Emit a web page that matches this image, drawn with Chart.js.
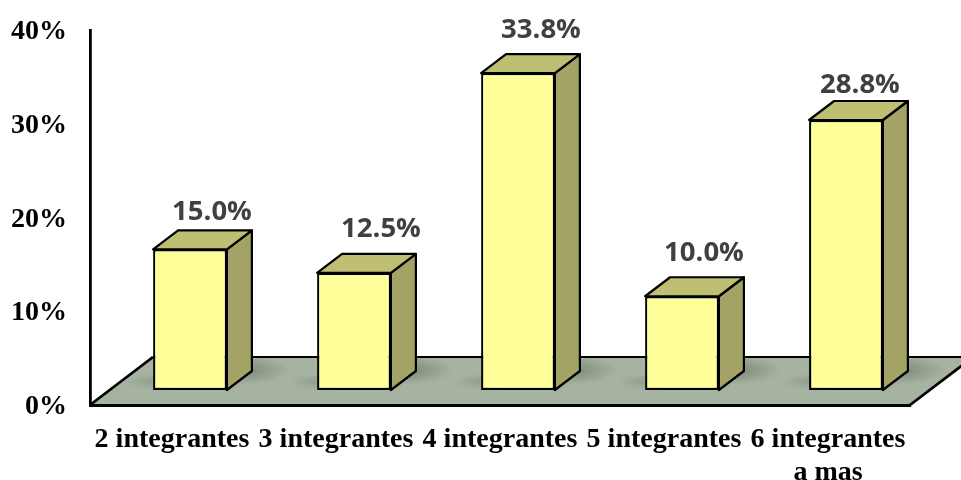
<!DOCTYPE html>
<html><head><meta charset="utf-8">
<style>html,body{margin:0;padding:0;background:#fff}#w{width:961px;height:480px}</style>
<script src="https://cdn.jsdelivr.net/npm/chart.js@4/dist/chart.umd.min.js"></script>
</head><body><div id="w"><canvas id="c"></canvas></div>
<script>
const categories = ["2 integrantes","3 integrantes","4 integrantes","5 integrantes",["6 integrantes","a mas"]];
const values = [15.0,12.5,33.8,10.0,28.8];
const valueLabels = ["15.0%","12.5%","33.8%","10.0%","28.8%"];
const yMax = 40, yStep = 10;

const BAR_SHIFT = {x:18, y:-15};
const DEPTH = {x:25, y:-19};
const FLOOR = {x:63, y:-48};
const LABEL_NUDGE_X = [0,5,1,0,-8];
const LABEL_NUDGE_Y = [2,-5,-4,-4,4];
const EDGE = 2.2;

const threeD = {
  id:'threeD',
  beforeDraw(chart){
    const {ctx,chartArea:a} = chart;
    const poly = () => {
      ctx.beginPath();
      ctx.moveTo(a.left,a.bottom);
      ctx.lineTo(a.right,a.bottom);
      ctx.lineTo(a.right+FLOOR.x,a.bottom+FLOOR.y);
      ctx.lineTo(a.left+FLOOR.x,a.bottom+FLOOR.y);
      ctx.closePath();
    };
    ctx.save();
    poly();
    ctx.fillStyle='#A7B3A1';
    ctx.fill();
    ctx.save();
    poly(); ctx.clip();
    chart.getDatasetMeta(0).data.forEach(b=>{
      const bx = b.x+BAR_SHIFT.x+b.width/2+16, by = b.base+BAR_SHIFT.y-20;
      ctx.save();
      ctx.translate(bx,by); ctx.scale(1,0.32);
      const g = ctx.createRadialGradient(0,0,2,0,0,46);
      g.addColorStop(0,'rgba(75,85,75,0.45)');
      g.addColorStop(1,'rgba(75,85,75,0)');
      ctx.fillStyle=g;
      ctx.beginPath(); ctx.arc(0,0,46,0,Math.PI*2); ctx.fill();
      ctx.restore();
      const lx = b.x+BAR_SHIFT.x-b.width/2;
      ctx.save();
      ctx.translate(lx,by+12); ctx.scale(1,0.3);
      const g2 = ctx.createRadialGradient(0,0,2,0,0,28);
      g2.addColorStop(0,'rgba(75,85,75,0.2)');
      g2.addColorStop(1,'rgba(75,85,75,0)');
      ctx.fillStyle=g2;
      ctx.beginPath(); ctx.arc(0,0,28,0,Math.PI*2); ctx.fill();
      ctx.restore();
    });
    ctx.restore();
    ctx.strokeStyle='#000';
    ctx.lineWidth=1.8;
    ctx.beginPath();
    ctx.moveTo(a.left+FLOOR.x,a.bottom+FLOOR.y);
    ctx.lineTo(a.right+FLOOR.x,a.bottom+FLOOR.y);
    ctx.stroke();
    ctx.lineWidth=2.8;
    ctx.beginPath();
    ctx.moveTo(a.left,a.bottom);
    ctx.lineTo(a.left+FLOOR.x,a.bottom+FLOOR.y);
    ctx.moveTo(a.right,a.bottom);
    ctx.lineTo(a.right+FLOOR.x,a.bottom+FLOOR.y);
    ctx.stroke();
    ctx.restore();
  },
  beforeDatasetsDraw(chart){
    const {ctx} = chart;
    ctx.save();
    ctx.translate(BAR_SHIFT.x,BAR_SHIFT.y);
    ctx.strokeStyle='#000';
    ctx.lineWidth=EDGE;
    ctx.lineJoin='round';
    chart.getDatasetMeta(0).data.forEach(b=>{
      const l=b.x-b.width/2, r=b.x+b.width/2, t=b.y, base=b.base;
      ctx.fillStyle='#A3A365';
      ctx.beginPath();
      ctx.moveTo(r,t); ctx.lineTo(r+DEPTH.x,t+DEPTH.y);
      ctx.lineTo(r+DEPTH.x,base+DEPTH.y); ctx.lineTo(r,base);
      ctx.closePath(); ctx.fill(); ctx.stroke();
      ctx.fillStyle='#BFBF73';
      ctx.beginPath();
      ctx.moveTo(l,t); ctx.lineTo(l+DEPTH.x,t+DEPTH.y);
      ctx.lineTo(r+DEPTH.x,t+DEPTH.y); ctx.lineTo(r,t);
      ctx.closePath(); ctx.fill(); ctx.stroke();
    });
    ctx.restore();
  },
  beforeDatasetDraw(chart){
    chart.ctx.save();
    chart.ctx.translate(BAR_SHIFT.x,BAR_SHIFT.y);
  },
  afterDatasetDraw(chart){
    chart.ctx.restore();
  },
  afterDatasetsDraw(chart){
    const {ctx} = chart;
    ctx.save();
    ctx.fillStyle='#404040';
    ctx.font='bold 27.5px "Open Sans"';
    ctx.textAlign='center';
    ctx.textBaseline='middle';
    chart.getDatasetMeta(0).data.forEach((b,i)=>{
      ctx.fillText(valueLabels[i], b.x+BAR_SHIFT.x+22+LABEL_NUDGE_X[i], b.y+BAR_SHIFT.y-39+LABEL_NUDGE_Y[i]);
    });
    ctx.restore();
  }
};

new Chart(document.getElementById('c'),{
  type:'bar',
  data:{labels:categories,datasets:[{
    data:values,
    backgroundColor:'#FFFF99',
    borderColor:'#000',
    borderWidth:EDGE,
    borderSkipped:false,
    barPercentage:0.45,
    categoryPercentage:1,
    clip:false
  }]},
  options:{
    responsive:true,maintainAspectRatio:false,animation:false,
    layout:{padding:{top:30,right:51,left:0,bottom:0}},
    plugins:{legend:{display:false},tooltip:{enabled:false}},
    scales:{
      x:{
        afterFit(s){s.height=75;s.paddingLeft=0;s.paddingRight=0;},
        grid:{display:false,drawTicks:false},
        border:{display:true,color:'#000',width:3},
        ticks:{color:'#000',padding:19,maxRotation:0,autoSkip:false,
          font:{family:'"Liberation Serif"',weight:'bold',size:28,lineHeight:1.15}}
      },
      y:{
        min:0,max:yMax,
        afterFit(s){s.width=90;s.paddingTop=0;s.paddingBottom=0;},
        grid:{display:false,drawTicks:false},
        border:{display:true,color:'#000',width:2.8},
        ticks:{stepSize:yStep,color:'#000',padding:23,labelOffset:2,
          callback:v=>v+'%',
          font:{family:'"Liberation Serif"',weight:'bold',size:28}}
      }
    }
  },
  plugins:[threeD]
});
</script></body></html>
